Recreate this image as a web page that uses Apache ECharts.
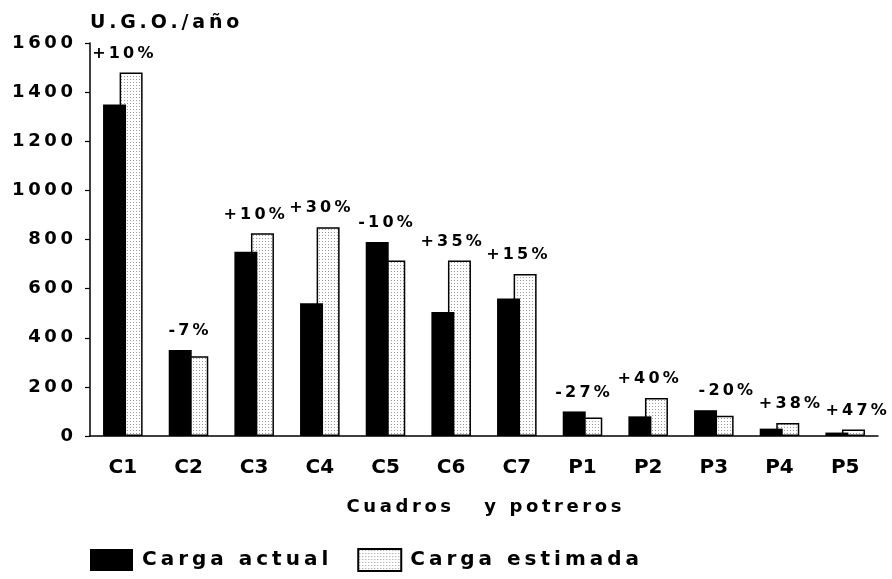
<!DOCTYPE html>
<html>
<head>
<meta charset="utf-8">
<script src="https://cdn.jsdelivr.net/npm/echarts@6/dist/echarts.min.js"></script>
<style>
  html, body { margin: 0; padding: 0; background: #ffffff; }
  #chart { width: 892px; height: 579px; }
</style>
</head>
<body>
<div id="chart"></div>
<script>
// ---- data ----
const categories = ['C1', 'C2', 'C3', 'C4', 'C5', 'C6', 'C7', 'P1', 'P2', 'P3', 'P4', 'P5'];
const cargaActual = [1350, 350, 750, 540, 790, 505, 560, 100, 80, 105, 30, 14];
const cargaEstimada = [1480, 325, 825, 850, 715, 715, 660, 75, 155, 82, 53, 26];
const cambios = ['+10%', '-7%', '+10%', '+30%', '-10%', '+35%', '+15%', '-27%', '+40%', '-20%', '+38%', '+47%'];
const yMin = 0, yMax = 1600, yStep = 200;
const yTitle = 'U.G.O./año';
const xTitle = 'Cuadros   y potreros';
const seriesNames = ['Carga actual', 'Carga estimada'];

// ---- style helpers ----
const labelNudge = [0, 0, 0, 0, 0, 0, 0, 0, 0, 12, 10, 11];
const FONT = 'DejaVu Sans';
const sp = s => String(s).split('').join('\u2009');

const cnv = document.createElement('canvas');
cnv.width = 3; cnv.height = 3;
const cx = cnv.getContext('2d');
cx.fillStyle = '#ffffff'; cx.fillRect(0, 0, 3, 3);
cx.fillStyle = '#9a9a9a';
cx.fillRect(1, 1, 1, 1);
const stipple = { image: cnv, repeat: 'repeat' };

const labelData = categories.map((c, i) => ({
  value: Math.max(cargaActual[i], cargaEstimada[i]),
  label: { offset: [labelNudge[i], 0], formatter: sp(cambios[i]) }
}));

const chart = echarts.init(document.getElementById('chart'), null, { renderer: 'canvas' });
chart.setOption({
  animation: false,
  backgroundColor: '#ffffff',
  textStyle: { fontFamily: FONT, fontWeight: 'bold', color: '#000' },
  grid: { left: 90, right: 14, top: 43, bottom: 143, containLabel: false },
  legend: {
    left: 90, top: 548, padding: 0,
    itemWidth: 43, itemHeight: 22, itemGap: 29,
    icon: 'rect',
    data: seriesNames,
    formatter: n => '\u2009' + sp(n),
    textStyle: { fontFamily: FONT, fontWeight: 'bold', fontSize: 20, color: '#000' }
  },
  xAxis: {
    type: 'category',
    data: categories,
    name: sp(xTitle),
    nameLocation: 'middle',
    nameGap: 62,
    nameTextStyle: { fontFamily: FONT, fontWeight: 'bold', fontSize: 18, color: '#000' },
    axisLine: { lineStyle: { color: '#000', width: 1.5 } },
    axisTick: { alignWithLabel: true, length: 10, lineStyle: { color: '#000', width: 1.2 } },
    axisLabel: { margin: 22, fontFamily: FONT, fontWeight: 'bold', fontSize: 20, color: '#000' },
    splitLine: { show: false }
  },
  yAxis: {
    type: 'value',
    min: yMin, max: yMax, interval: yStep,
    name: sp(yTitle),
    nameLocation: 'end',
    nameGap: 20,
    nameTextStyle: { fontFamily: FONT, fontWeight: 'bold', fontSize: 19, color: '#000', align: 'left', verticalAlign: 'middle' },
    axisLine: { show: true, lineStyle: { color: '#000', width: 1.5 } },
    axisTick: { show: true, length: 5, lineStyle: { color: '#000', width: 1.2 } },
    axisLabel: { margin: 17, fontFamily: FONT, fontWeight: 'bold', fontSize: 18, color: '#000', formatter: v => sp(v) },
    splitLine: { show: false }
  },
  series: [
    {
      name: seriesNames[0],
      type: 'bar',
      data: cargaActual,
      barWidth: 23,
      barGap: '-28%',
      z: 3,
      itemStyle: { color: '#000', borderColor: '#000', borderWidth: 0 }
    },
    {
      name: seriesNames[1],
      type: 'bar',
      data: cargaEstimada,
      barWidth: 23,
      z: 2,
      itemStyle: { color: stipple, borderColor: '#000', borderWidth: 1.5 }
    },
    {
      name: 'cambio',
      type: 'scatter',
      data: labelData,
      symbolSize: 0,
      silent: true,
      z: 4,
      itemStyle: { opacity: 1 },
      label: {
        show: true, position: 'top', distance: 11,
        fontFamily: FONT, fontWeight: 'bold', fontSize: 16, color: '#000'
      }
    }
  ]
});
</script>
</body>
</html>
